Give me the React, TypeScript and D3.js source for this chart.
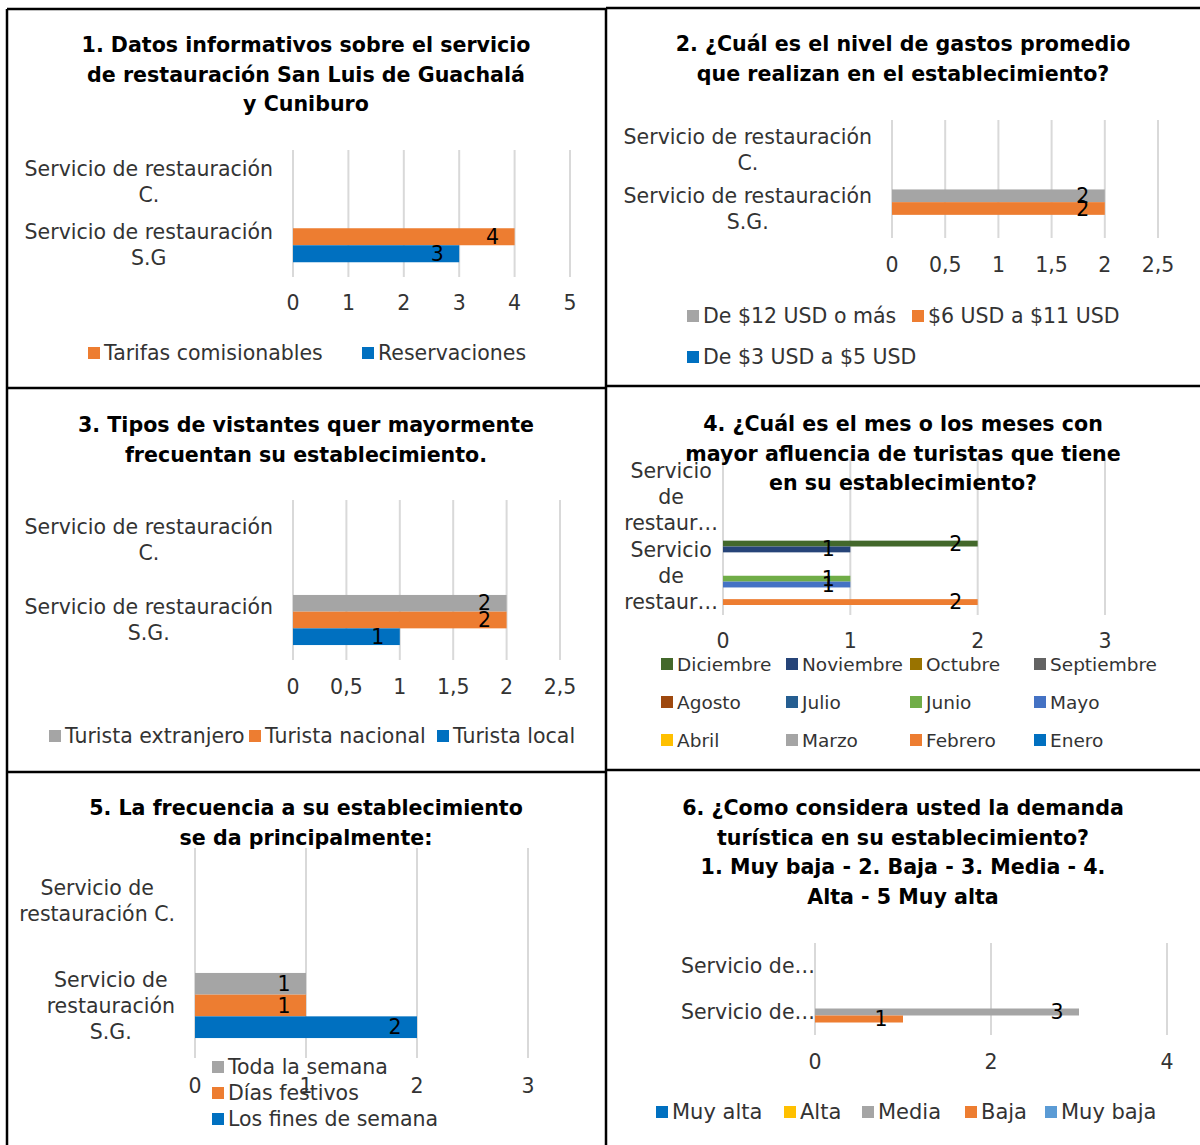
import React from "react";
import * as d3 from "d3";

const FONT = "'DejaVu Sans', sans-serif";

// ---- 1. Datos informativos ----
const title1 = ["1. Datos informativos sobre el servicio", "de restauración San Luis de Guachalá", "y Cuniburo"];
const categories1 = [["Servicio de restauración", "C."], ["Servicio de restauración", "S.G"]];
const seriesNames1 = ["Tarifas comisionables", "Reservaciones"];
const tarifas1 = [null, 4];
const reservaciones1 = [null, 3];
const ticks1 = [0, 1, 2, 3, 4, 5];

// ---- 2. Nivel de gastos ----
const title2 = ["2. ¿Cuál es el nivel de gastos promedio", "que realizan en el establecimiento?"];
const categories2 = [["Servicio de restauración", "C."], ["Servicio de restauración", "S.G."]];
const seriesNames2 = ["De $12 USD o más", "$6 USD a $11 USD", "De $3 USD a $5 USD"];
const gasto12mas2 = [null, 2];
const gasto6a11_2 = [null, 2];
const gasto3a5_2 = [null, null];
const ticks2 = [0, 0.5, 1, 1.5, 2, 2.5];

// ---- 3. Tipos de visitantes ----
const title3 = ["3. Tipos de vistantes quer mayormente", "frecuentan su establecimiento."];
const categories3 = [["Servicio de restauración", "C."], ["Servicio de restauración", "S.G."]];
const seriesNames3 = ["Turista extranjero", "Turista nacional", "Turista local"];
const extranjero3 = [null, 2];
const nacional3 = [null, 2];
const local3 = [null, 1];
const ticks3 = [0, 0.5, 1, 1.5, 2, 2.5];

// ---- 4. Meses de mayor afluencia ----
const title4 = ["4. ¿Cuál es el mes o los meses con", "mayor afluencia de turistas que tiene", "en su establecimiento?"];
const categories4 = [["Servicio", "de", "restaur…"], ["Servicio", "de", "restaur…"]];
const months4 = ["Diciembre", "Noviembre", "Octubre", "Septiembre", "Agosto", "Julio", "Junio", "Mayo", "Abril", "Marzo", "Febrero", "Enero"];
const diciembre4 = [null, 2];
const noviembre4 = [null, 1];
const octubre4 = [null, null];
const septiembre4 = [null, null];
const agosto4 = [null, null];
const julio4 = [null, null];
const junio4 = [null, 1];
const mayo4 = [null, 1];
const abril4 = [null, null];
const marzo4 = [null, null];
const febrero4 = [null, 2];
const enero4 = [null, null];
const ticks4 = [0, 1, 2, 3];

// ---- 5. Frecuencia ----
const title5 = ["5. La frecuencia a su establecimiento", "se da principalmente:"];
const categories5 = [["Servicio de", "restauración C."], ["Servicio de", "restauración", "S.G."]];
const seriesNames5 = ["Toda la semana", "Días festivos", "Los fines de semana"];
const todaSemana5 = [null, 1];
const festivos5 = [null, 1];
const finesSemana5 = [null, 2];
const ticks5 = [0, 1, 2, 3];

// ---- 6. Demanda turística ----
const title6 = ["6. ¿Como considera usted la demanda", "turística en su establecimiento?", "1. Muy baja - 2. Baja - 3. Media - 4.", "Alta - 5 Muy alta"];
const categories6 = [["Servicio de…"], ["Servicio de…"]];
const seriesNames6 = ["Muy alta", "Alta", "Media", "Baja", "Muy baja"];
const muyAlta6 = [null, null];
const alta6 = [null, null];
const media6 = [null, 3];
const baja6 = [null, 1];
const muyBaja6 = [null, null];
const ticks6 = [0, 2, 4];

const fmt = d3.formatLocale({ decimal: ",", thousands: ".", grouping: [3], currency: ["$", ""] }).format("~g");

const measureCtx = typeof document !== "undefined" ? document.createElement("canvas").getContext("2d") : null;
function textWidth(s: string, size: number) {
  if (!measureCtx) return s.length * size * 0.55;
  measureCtx.font = `${size}px "DejaVu Sans"`;
  return measureCtx.measureText(s).width;
}

type Panel = {
  title: string[];
  titleX: number;
  titleY: number;
  categories: string[][];
  names: string[];
  values: (number | null)[][];
  colors: string[];
  ticks: number[];
  max: number;
  x0: number;
  x1: number;
  gridTop: number;
  gridBottom: number;
  labelRight: number;
  barH: number;
  tickY: number;
  legendFS: number;
  legend: [number, number][];
};

const TEXT = "#333";
const FS = 20.5;
const TITLE_FS = 20.6;

const panels: Panel[] = [
  {
    title: title1, titleX: 306, titleY: 45,
    categories: categories1, names: seriesNames1,
    values: [tarifas1, reservaciones1],
    colors: ["#ED7D31", "#0070C0"],
    ticks: ticks1, max: 5, x0: 293, x1: 570, gridTop: 150, gridBottom: 277,
    labelRight: 273, barH: 17, tickY: 303, legendFS: 20.5,
    legend: [[88, 353], [362, 353]],
  },
  {
    title: title2, titleX: 903, titleY: 44,
    categories: categories2, names: seriesNames2,
    values: [gasto12mas2, gasto6a11_2, gasto3a5_2],
    colors: ["#A5A5A5", "#ED7D31", "#0070C0"],
    ticks: ticks2, max: 2.5, x0: 892, x1: 1158, gridTop: 120, gridBottom: 238,
    labelRight: 872, barH: 12.7, tickY: 265, legendFS: 20.5,
    legend: [[687, 316], [912, 316], [687, 357]],
  },
  {
    title: title3, titleX: 306, titleY: 425,
    categories: categories3, names: seriesNames3,
    values: [extranjero3, nacional3, local3],
    colors: ["#A5A5A5", "#ED7D31", "#0070C0"],
    ticks: ticks3, max: 2.5, x0: 293, x1: 560, gridTop: 500, gridBottom: 660,
    labelRight: 273, barH: 16.7, tickY: 687, legendFS: 20.5,
    legend: [[49, 736], [249, 736], [437, 736]],
  },
  {
    title: title4, titleX: 903, titleY: 424,
    categories: categories4, names: months4,
    values: [diciembre4, noviembre4, octubre4, septiembre4, agosto4, julio4, junio4, mayo4, abril4, marzo4, febrero4, enero4],
    colors: ["#43682B", "#264478", "#997300", "#636363", "#9E480E", "#255E91", "#70AD47", "#4472C4", "#FFC000", "#A5A5A5", "#ED7D31", "#0070C0"],
    ticks: ticks4, max: 3, x0: 723, x1: 1105, gridTop: 458, gridBottom: 615,
    labelRight: 718, barH: 5.85, tickY: 641, legendFS: 18.5,
    legend: [
      [661, 664], [786, 664], [910, 664], [1034, 664],
      [661, 702], [786, 702], [910, 702], [1034, 702],
      [661, 740], [786, 740], [910, 740], [1034, 740],
    ],
  },
  {
    title: title5, titleX: 306, titleY: 808,
    categories: categories5, names: seriesNames5,
    values: [todaSemana5, festivos5, finesSemana5],
    colors: ["#A5A5A5", "#ED7D31", "#0070C0"],
    ticks: ticks5, max: 3, x0: 195, x1: 528, gridTop: 848, gridBottom: 1058,
    labelRight: 175, barH: 21.7, tickY: 1086, legendFS: 20.5,
    legend: [[212, 1067], [212, 1093], [212, 1119]],
  },
  {
    title: title6, titleX: 903, titleY: 808,
    categories: categories6, names: seriesNames6,
    values: [muyAlta6, alta6, media6, baja6, muyBaja6],
    colors: ["#0070C0", "#FFC000", "#A5A5A5", "#ED7D31", "#5B9BD5"],
    ticks: ticks6, max: 4, x0: 815, x1: 1167, gridTop: 943, gridBottom: 1035,
    labelRight: 815, barH: 7, tickY: 1062, legendFS: 21,
    legend: [[656, 1112], [784, 1112], [862, 1112], [965, 1112], [1045, 1112]],
  },
];

function BarPanel({ p }: { p: Panel }) {
  const x = d3.scaleLinear().domain([0, p.max]).range([p.x0, p.x1]);
  const cat = d3.scaleBand<number>().domain(d3.range(p.categories.length)).range([p.gridTop, p.gridBottom]);
  const n = p.names.length;
  const inner = (ci: number) => {
    const c = (cat(ci) as number) + cat.bandwidth() / 2;
    return d3.scaleBand<number>().domain(d3.range(n)).range([c - (n * p.barH) / 2, c + (n * p.barH) / 2]);
  };

  return (
    <g>
      {p.ticks.map((t) => (
        <line key={"g" + t} x1={x(t)} x2={x(t)} y1={p.gridTop} y2={p.gridBottom} stroke="#D9D9D9" strokeWidth={2} />
      ))}
      {p.categories.map((_, ci) => {
        const s = inner(ci);
        return p.values.map((vals, si) => {
          const v = vals[ci];
          if (v == null) return null;
          return (
            <rect key={`b${ci}-${si}`} x={x(0)} y={s(si)} width={x(v) - x(0)} height={s.bandwidth()} fill={p.colors[si]} />
          );
        });
      })}
      {p.categories.map((_, ci) => {
        const s = inner(ci);
        return p.values.map((vals, si) => {
          const v = vals[ci];
          if (v == null) return null;
          return (
            <text key={`l${ci}-${si}`} x={x(v) - 22} y={(s(si) as number) + s.bandwidth() / 2 + 7} textAnchor="middle" fontSize={FS} fill="#000">
              {fmt(v)}
            </text>
          );
        });
      })}
      {p.title.map((line, i) => (
        <text key={"t" + i} x={p.titleX} y={p.titleY + i * 29.6 + 7} textAnchor="middle" fontSize={TITLE_FS} fontWeight="bold" fill="#000">
          {line}
        </text>
      ))}
      {p.categories.map((lines, ci) => {
        const block = Math.max(...lines.map((l) => textWidth(l, FS)));
        const cx = p.labelRight - block / 2;
        const c = (cat(ci) as number) + cat.bandwidth() / 2;
        return lines.map((l, j) => (
          <text key={`c${ci}-${j}`} x={cx} y={c + (j - (lines.length - 1) / 2) * 26 + 7} textAnchor="middle" fontSize={FS} fill={TEXT}>
            {l}
          </text>
        ));
      })}
      {p.ticks.map((t) => (
        <text key={"k" + t} x={x(t)} y={p.tickY + 7} textAnchor="middle" fontSize={FS} fill={TEXT}>
          {fmt(t)}
        </text>
      ))}
      {p.names.map((name, i) => {
        const [lx, ly] = p.legend[i];
        return (
          <g key={"lg" + i}>
            <rect x={lx} y={ly - 6} width={12} height={12} fill={p.colors[i]} />
            <text x={lx + 16} y={ly + 7} fontSize={p.legendFS} fill={TEXT}>
              {name}
            </text>
          </g>
        );
      })}
    </g>
  );
}

export default function App() {
  return (
    <svg
      width={1200}
      height={1145}
      viewBox="0 0 1200 1145"
      style={{ position: "absolute", left: 0, top: 0, background: "#fff" }}
      fontFamily={FONT}
    >
      <rect x={0} y={0} width={1200} height={1145} fill="#fff" />
      {panels.map((p, i) => (
        <BarPanel key={i} p={p} />
      ))}
      <g stroke="#000" strokeWidth={2.5} fill="none">
        <line x1={7} x2={606} y1={9} y2={9} />
        <line x1={606} x2={1200} y1={8} y2={8} />
        <line x1={7} x2={7} y1={9} y2={1145} />
        <line x1={606} x2={606} y1={8} y2={1145} />
        <line x1={7} x2={606} y1={388} y2={388} />
        <line x1={606} x2={1200} y1={386} y2={386} />
        <line x1={7} x2={606} y1={772} y2={772} />
        <line x1={606} x2={1200} y1={770} y2={770} />
      </g>
    </svg>
  );
}
